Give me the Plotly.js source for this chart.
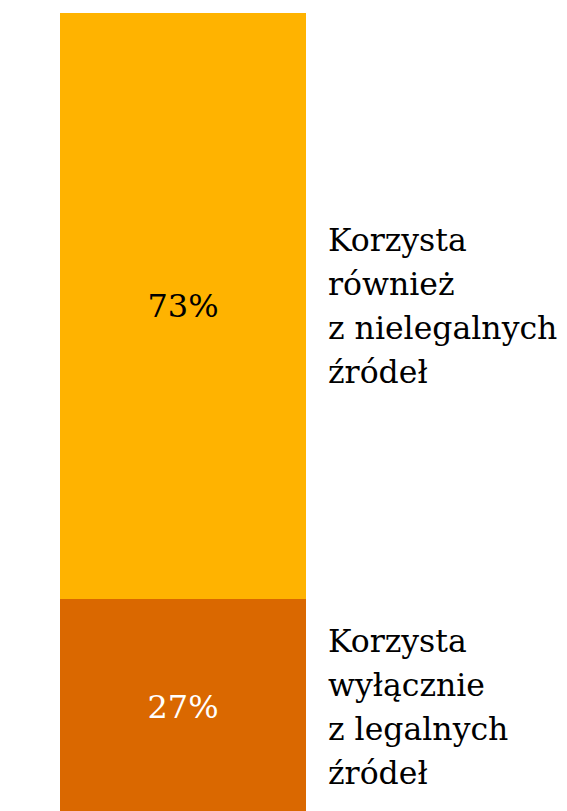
<!DOCTYPE html>
<html><head><meta charset="utf-8">
<script src="https://cdn.plot.ly/plotly-3.0.1.min.js"></script>
<style>html,body{margin:0;padding:0;background:#fff}#chart{width:567px;height:811px}</style>
</head><body><div id="chart"></div>
<script>
const category = [''];
const segmentNames = ['Korzysta wyłącznie z legalnych źródeł', 'Korzysta również z nielegalnych źródeł'];
const segmentValues = [27, 73];
const segmentLabels = [
  ['Korzysta', 'wyłącznie', 'z legalnych', 'źródeł'],
  ['Korzysta', 'również', 'z nielegalnych', 'źródeł']
];
const colors = ['#DA6800', '#FFB300'];
const textColors = ['#ffffff', '#000000'];
const serif = 'DejaVu Serif, Georgia, serif';

const traces = segmentValues.map((v, i) => ({
  type: 'bar', x: category, y: [v], name: segmentNames[i],
  marker: {color: colors[i], line: {width: 0}},
  text: [v + '%'], textposition: 'inside', insidetextanchor: 'middle',
  textfont: {family: serif, size: 32, color: textColors[i]},
  hoverinfo: 'skip', width: 1
}));

const annotations = [];
let cum = 0;
const lineGap = 44;
segmentValues.forEach((v, i) => {
  const mid = cum + v / 2; cum += v;
  const lines = segmentLabels[i];
  lines.forEach((t, j) => {
    annotations.push({
      x: 0.582, y: mid, xref: 'x', yref: 'y', xanchor: 'left', yanchor: 'middle',
      text: t, showarrow: false, align: 'left',
      yshift: -((j - (lines.length - 1) / 2) * lineGap),
      font: {family: serif, size: 31.5, color: '#000'}
    });
  });
});

Plotly.newPlot('chart', traces, {
  width: 567, height: 811, barmode: 'stack', showlegend: false,
  margin: {l: 60, r: 0, t: 13, b: 0, pad: 0},
  paper_bgcolor: '#fff', plot_bgcolor: '#fff',
  xaxis: {range: [-0.5, 1.561], visible: false, fixedrange: true},
  yaxis: {range: [0.6, 100], visible: false, fixedrange: true},
  annotations: annotations,
  uniformtext: {mode: false}
}, {staticPlot: true, displayModeBar: false});
</script></body></html>
